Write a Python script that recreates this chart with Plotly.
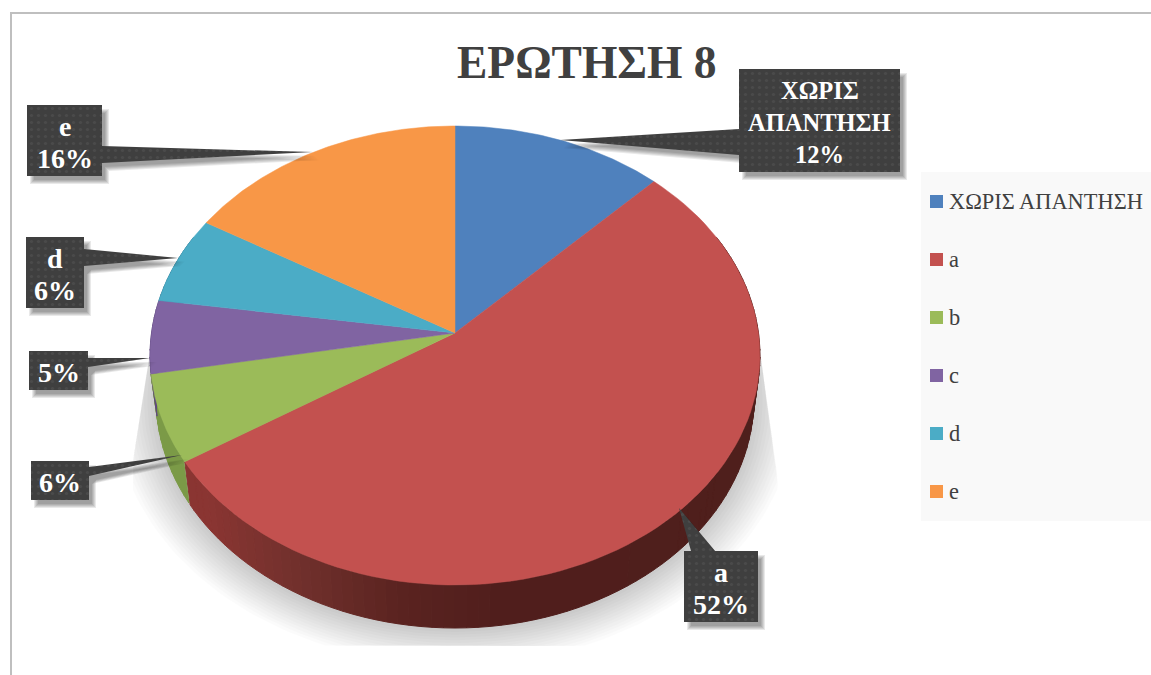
import math
from collections import defaultdict

import numpy as np
import plotly.graph_objects as go

# ---- chart data ----
categories = ["ΧΩΡΙΣ ΑΠΑΝΤΗΣΗ", "a", "b", "c", "d", "e"]
values = [12, 52, 6, 5, 6, 16]
callout_names = [["ΧΩΡΙΣ", "ΑΠΑΝΤΗΣΗ"], ["a"], [], [], ["d"], ["e"]]
colors = ["#4f81bd", "#c3514f", "#9bbb59", "#8064a2", "#4bacc6", "#f89747"]
side_colors = ["#3b618e", "#7a2f2c", "#7b9a47", "#5f4a7c", "#38819a", "#b97034"]
title_text = "ΕΡΩΤΗΣΗ 8"

# ---- layout constants (page pixels, y pointing down) ----
W, H = 1151, 675
CX, CY = 455, 333
PERSP = 0.098
RX, RY = 303.5, 227.3
DEPTH = 43
SERIF = "Liberation Serif"
TEXT_GREY = "#404040"
LABEL_LINE_STEP = 32

# callout geometry: box (x0, y0, x1, y1), side of the pointer, its two base points, tip, font size
callouts = [
    ((739, 69, 900, 172), "left", (739, 155), (739, 129), (560, 140), 24.5),
    ((684, 551, 758, 622), "top", (691, 551), (715, 551), (679, 508), 28),
    ((31, 461, 89, 500), "right", (89, 467), (89, 476), (182, 455), 28),
    ((29, 351, 88, 390), "right", (88, 358), (88, 367), (150, 358), 28),
    ((26, 237, 84, 308), "right", (84, 249), (84, 266), (178, 258), 28),
    ((27, 105, 102, 176), "right", (102, 146), (102, 163), (313, 152), 28),
]


def project(theta, depth=0.0, grow=0.0):
    """Perspective projection of a point on the pie rim; theta runs clockwise from the top."""
    theta = np.asarray(theta, dtype=float)
    den = 1 + PERSP * np.cos(theta)
    shrink = 1 - 0.02 * depth / DEPTH + grow
    x = CX + RX * shrink * np.sin(theta) / den
    y = CY - RY * (1 + grow) * np.cos(theta) / den + depth
    return x, y


def poly_trace(xs, ys, color, **kw):
    return go.Scatter(
        x=list(xs), y=list(ys), mode="lines", fill="toself", fillcolor=color,
        line=dict(color=kw.pop("line_color", "rgba(0,0,0,0)"), width=kw.pop("line_width", 0)),
        hoverinfo="skip", showlegend=False, **kw,
    )


def lerp_color(stops, x):
    xs = [s[0] for s in stops]
    chans = [np.interp(x, xs, [int(s[1][i:i + 2], 16) for s in stops]) for i in (1, 3, 5)]
    return "#%02x%02x%02x" % tuple(int(round(c)) for c in chans)


fractions = np.array(values, dtype=float) / sum(values)
edges = np.concatenate([[0], np.cumsum(fractions)]) * 2 * math.pi

traces = []

# soft ground shadow, stacked translucent rings held inside a slanted frame
for i in range(14):
    th = np.linspace(0, 2 * math.pi, 240)
    sx, sy = project(th, DEPTH + 2, 0.14 - i * 0.011)
    left = np.where(sy < 460, 150 - (sy - 350) * 17 / 110, 133)
    right = np.where(sy < 480, 760 + (sy - 350) * 18 / 130, 778)
    sx = np.clip(sx, left, right)
    sy = np.clip(sy, 350, 646)
    traces.append(poly_trace(sx, sy, "rgba(0,0,0,0.017)"))

# rim of the pie, split into short quads so the red side can darken along its length
red_stops = [(205, "#8a3532"), (300, "#70302c"), (400, "#5a2320"), (500, "#501e1c"), (760, "#4f1f1c")]
quads = defaultdict(list)
for a0 in np.arange(0, 2 * math.pi, math.radians(2)):
    a1 = a0 + math.radians(2)
    mid = (a0 + a1) / 2
    if math.cos(mid) > 0.45:
        continue
    idx = int(np.searchsorted(edges, mid) - 1)
    a1 = min(a1, edges[idx + 1])
    tx, ty = project([a0, a1])
    bx, by = project([a1, a0], DEPTH)
    col = lerp_color(red_stops, float(tx.mean())) if idx == 1 else side_colors[idx]
    quads[col].append((list(tx) + list(bx) + [tx[0], None], list(ty) + list(by) + [ty[0], None]))
for col, parts in quads.items():
    xs = [v for p in parts for v in p[0]]
    ys = [v for p in parts for v in p[1]]
    traces.append(poly_trace(xs, ys, col, line_color=col, line_width=1))

# top faces of the slices
for i, col in enumerate(colors):
    th = np.linspace(edges[i], edges[i + 1], 90)
    ex, ey = project(th)
    traces.append(go.Scatter(
        x=[CX, *ex, CX], y=[CY, *ey, CY], mode="lines", fill="toself", fillcolor=col,
        line=dict(color=col, width=0.5), name=categories[i], showlegend=False,
        text=f"{categories[i]}: {values[i]}%", hoverinfo="text",
    ))


def callout_outline(box, side, p1, p2, tip):
    x0, y0, x1, y1 = box
    pts = [(x0, y0)]
    if side == "top":
        pts += [p1, tip, p2]
    pts.append((x1, y0))
    if side == "right":
        pts += [p1, tip, p2]
    pts += [(x1, y1), (x0, y1)]
    if side == "left":
        pts += [p1, tip, p2]
    pts.append((x0, y0))
    return pts


outlines = [callout_outline(*c[:5]) for c in callouts]

# blurred drop shadows under the callouts
for grow in range(5):
    xs, ys = [], []
    for (box, *_), pts in zip(callouts, outlines):
        bcx, bcy = (box[0] + box[2]) / 2, (box[1] + box[3]) / 2
        for px, py in pts:
            xs.append(px + 5 + (grow - 2) * (1 if px > bcx else -1))
            ys.append(py + 6 + (grow - 2) * (1 if py > bcy else -1))
        xs.append(None)
        ys.append(None)
    traces.append(poly_trace(xs, ys, "rgba(0,0,0,0.085)"))

# callout bodies with the dotted texture
for pts in outlines:
    traces.append(go.Scatter(
        x=[p[0] for p in pts], y=[p[1] for p in pts], mode="lines", fill="toself",
        fillcolor="#3f3f3f",
        fillpattern=dict(shape=".", bgcolor="#3f3f3f", fgcolor="#565656", size=7, solidity=0.16),
        line=dict(color="rgba(0,0,0,0)", width=0), hoverinfo="skip", showlegend=False,
    ))

annotations = []
for c, name_lines, val in zip(callouts, callout_names, values):
    box, size = c[0], c[5]
    lines = [*name_lines, f"{val}%"]
    mid_y = (box[1] + box[3]) / 2
    for k, line in enumerate(lines):
        annotations.append(dict(
            x=(box[0] + box[2]) / 2, y=mid_y + 2 + (k - (len(lines) - 1) / 2) * LABEL_LINE_STEP,
            xref="x", yref="y", text=f"<b>{line}</b>", showarrow=False,
            xanchor="center", yanchor="middle",
            font=dict(family=SERIF, size=size, color="white"),
        ))

# title
annotations.append(dict(
    x=587, y=62, xref="x", yref="y", text=f"<b>{title_text}</b>", showarrow=False,
    xanchor="center", yanchor="middle", font=dict(family=SERIF, size=45.5, color=TEXT_GREY),
))

# key on the right: one swatch and name per category
KEY_X, KEY_TOP, KEY_STEP = 936.5, 201.5, 58
key_y = [KEY_TOP + KEY_STEP * i for i in range(len(categories))]
traces.append(go.Scatter(
    x=[KEY_X] * len(categories), y=key_y, mode="markers", hoverinfo="skip", showlegend=False,
    marker=dict(symbol="square", size=13, color=colors, line=dict(width=0)),
))
for name, y in zip(categories, key_y):
    annotations.append(dict(
        x=947, y=y, xref="x", yref="y", text=name, showarrow=False,
        xanchor="left", yanchor="middle", font=dict(family=SERIF, size=22.4, color=TEXT_GREY),
    ))

fig = go.Figure(traces)
fig.update_layout(
    width=W, height=H, margin=dict(l=0, r=0, t=0, b=0),
    paper_bgcolor="white", plot_bgcolor="white", showlegend=False,
    xaxis=dict(range=[0, W], visible=False, fixedrange=True),
    yaxis=dict(range=[H, 0], visible=False, fixedrange=True),
    annotations=annotations,
    shapes=[
        dict(type="path", path=f"M 11 {H} L 11 13 L {W} 13", xref="x", yref="y",
             line=dict(color="#bfbfbf", width=2), layer="below"),
        dict(type="rect", x0=921, x1=W, y0=172, y1=521, xref="x", yref="y",
             fillcolor="#f9f9f9", line=dict(width=0), layer="below"),
    ],
)
fig.write_html("out.html", config=dict(displayModeBar=False))
